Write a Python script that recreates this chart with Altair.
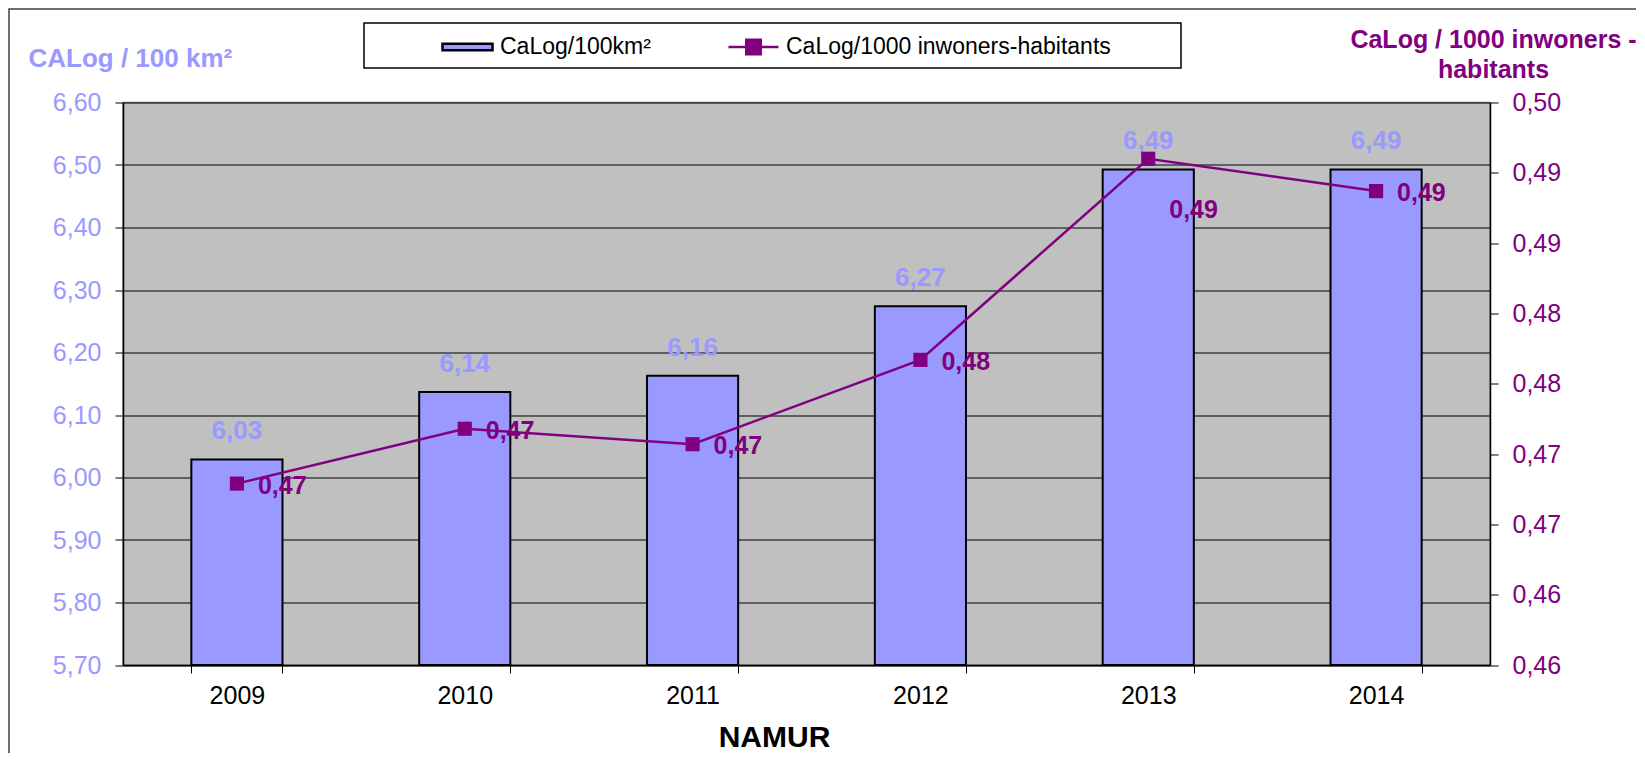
import altair as alt
import pandas as pd

FONT = "Liberation Sans"

years = ["2009", "2010", "2011", "2012", "2013", "2014"]
calog_100km2 = [6.029, 6.137, 6.163, 6.274, 6.493, 6.493]
calog_1000hab = [0.4679, 0.4718, 0.4707, 0.4767, 0.4910, 0.4887]
series_names = ["CaLog/100km²", "CaLog/1000 inwoners-habitants"]
series_colors = ["#9999FF", "#800080"]
left_domain = [5.70, 6.60]
right_domain = [0.455, 0.495]
left_ticks = [5.70, 5.80, 5.90, 6.00, 6.10, 6.20, 6.30, 6.40, 6.50, 6.60]
right_ticks = [0.455, 0.460, 0.465, 0.470, 0.475, 0.480, 0.485, 0.490, 0.495]

df = pd.DataFrame({"year": years, "v1": calog_100km2, "v2": calog_1000hab})
base = alt.Chart(df)

comma2 = "replace(format(datum.value + 1e-9, '.2f'), '.', ',')"

x_axis = alt.Axis(
    title="NAMUR", labelAngle=0, labelFontSize=25, labelFont=FONT, labelColor="black",
    tickBand="extent", tickSize=8, tickColor="black", tickWidth=1,
    domainColor="black", domainWidth=1.5, labelPadding=10, grid=False,
    titleFontSize=30, titleFont=FONT, titleFontWeight="bold", titleColor="black",
    titleX=651, titleY=72, titleBaseline="middle", titleAlign="center",
)
x_enc = alt.X("year:N", sort=years, scale=alt.Scale(paddingInner=0.6, paddingOuter=0.3), axis=x_axis)

left_axis = alt.Axis(
    values=left_ticks, labelExpr=comma2, labelFontSize=25, labelFont=FONT, labelColor="#9999FF",
    tickSize=8, tickColor="black", domainColor="black", domainWidth=1.5, labelPadding=14,
    grid=True, gridColor="black", gridWidth=1,
    title="CALog / 100 km²", titleAngle=0, titleX=-95, titleY=-44.5, titleAlign="left",
    titleBaseline="middle", titleFontSize=26, titleFont=FONT, titleFontWeight="bold",
    titleColor="#9999FF",
)
right_axis = alt.Axis(
    orient="right", values=right_ticks, labelExpr=comma2, labelFontSize=25, labelFont=FONT,
    labelColor="#800080", tickSize=8, tickColor="black", domainColor="black", domainWidth=1.5,
    labelPadding=14, grid=False,
    title=["CaLog / 1000 inwoners -", "habitants"], titleAngle=0, titleX=3, titleY=-75,
    titleAlign="center", titleBaseline="top", titleLineHeight=30, titleFontSize=25,
    titleFont=FONT, titleFontWeight="bold", titleColor="#800080",
)
y_left = alt.Scale(domain=left_domain, nice=False, zero=False)
y_right = alt.Scale(domain=right_domain, nice=False, zero=False)

bar_path = "M-1,-0.13H1V0.13H-1Z"
line_path = "M-1,0H1M-0.29,-0.29H0.29V0.29H-0.29Z"
legend_common = dict(
    orient="none", direction="horizontal", title=None,
    labelFontSize=23, labelFont=FONT, labelColor="black", labelLimit=800,
    symbolSize=2500, labelOffset=6, padding=0,
)
legend_bar = alt.Legend(
    legendX=318, legendY=-82, symbolType=bar_path, symbolStrokeColor="black",
    symbolStrokeWidth=2.5, symbolOpacity=1, **legend_common
)
legend_line = alt.Legend(
    legendX=604, legendY=-82, symbolType=line_path, symbolFillColor=series_colors[1],
    symbolStrokeColor=series_colors[1], symbolStrokeWidth=2.5, symbolOpacity=1, **legend_common
)

bars = base.transform_calculate(s=f"'{series_names[0]}'").mark_bar(
    stroke="black", strokeWidth=2, opacity=1
).encode(
    x=x_enc,
    y=alt.Y("v1:Q", scale=y_left, axis=left_axis),
    y2=alt.datum(left_domain[0]),
    fill=alt.Fill("s:N", scale=alt.Scale(domain=[series_names[0]], range=[series_colors[0]]),
                  legend=legend_bar),
)
bar_text = base.transform_calculate(
    lab="replace(format(datum.v1 + 1e-9, '.2f'), '.', ',')"
).mark_text(
    font=FONT, fontSize=26, fontWeight="bold", color="#9999FF", baseline="middle", dy=-28
).encode(x=x_enc, y=alt.Y("v1:Q", scale=y_left, axis=left_axis), text="lab:N")

left_group = alt.layer(bars, bar_text)

lr = right_domain[1] - right_domain[0]
ll = left_domain[1] - left_domain[0]
shift = 0.0035
line = base.transform_calculate(s=f"'{series_names[1]}'").mark_line(strokeWidth=2.5).encode(
    x=x_enc,
    y=alt.Y("v2:Q", scale=y_right, axis=right_axis),
    stroke=alt.Stroke("s:N", scale=alt.Scale(domain=[series_names[1]], range=[series_colors[1]]),
                      legend=legend_line),
)
points = base.mark_point(
    shape="square", filled=True, size=200, opacity=1, color=series_colors[1]
).encode(
    x=x_enc,
    y=alt.Y("v2:Q", scale=y_right, axis=right_axis),
)
line_text = base.transform_calculate(
    lab="replace(format(datum.v2 + 1e-9, '.2f'), '.', ',')",
    ly=(f"((datum.v2 - {right_domain[0]}) / {lr} > (datum.v1 - {left_domain[0]}) / {ll})"
        f" ? datum.v2 - {shift} : datum.v2"),
).mark_text(
    font=FONT, fontSize=25, fontWeight="bold", color="#800080", align="left",
    baseline="middle", dx=21, dy=2
).encode(x=x_enc, y=alt.Y("ly:Q", scale=y_right, axis=right_axis), text="lab:N")

right_group = alt.layer(line, points, line_text)

one = alt.Data(values=[{"k": 1}])
legend_box = alt.Chart(one).mark_rect(fill="white", stroke="black", strokeWidth=1.5).encode(
    x=alt.value(241), x2=alt.value(1058), y=alt.value(-79.5), y2=alt.value(-34.5)
)
frame = alt.Chart(one).mark_rect(fillOpacity=0, stroke="#404040", strokeWidth=1.5).encode(
    x=alt.value(-114), x2=alt.value(1600), y=alt.value(-93.5), y2=alt.value(720)
)

chart = alt.layer(left_group, right_group, legend_box, frame).resolve_scale(
    y="independent"
).properties(
    width=1367, height=562.5,
    padding={"left": 115, "top": 94.5, "right": 146, "bottom": 88},
    autosize=alt.AutoSizeParams(type="none"),
    background="white",
).configure_view(
    fill="#C0C0C0", stroke="#808080", strokeWidth=1.5
)

chart.save("out.html", embed_options={"renderer": "svg", "actions": False})
